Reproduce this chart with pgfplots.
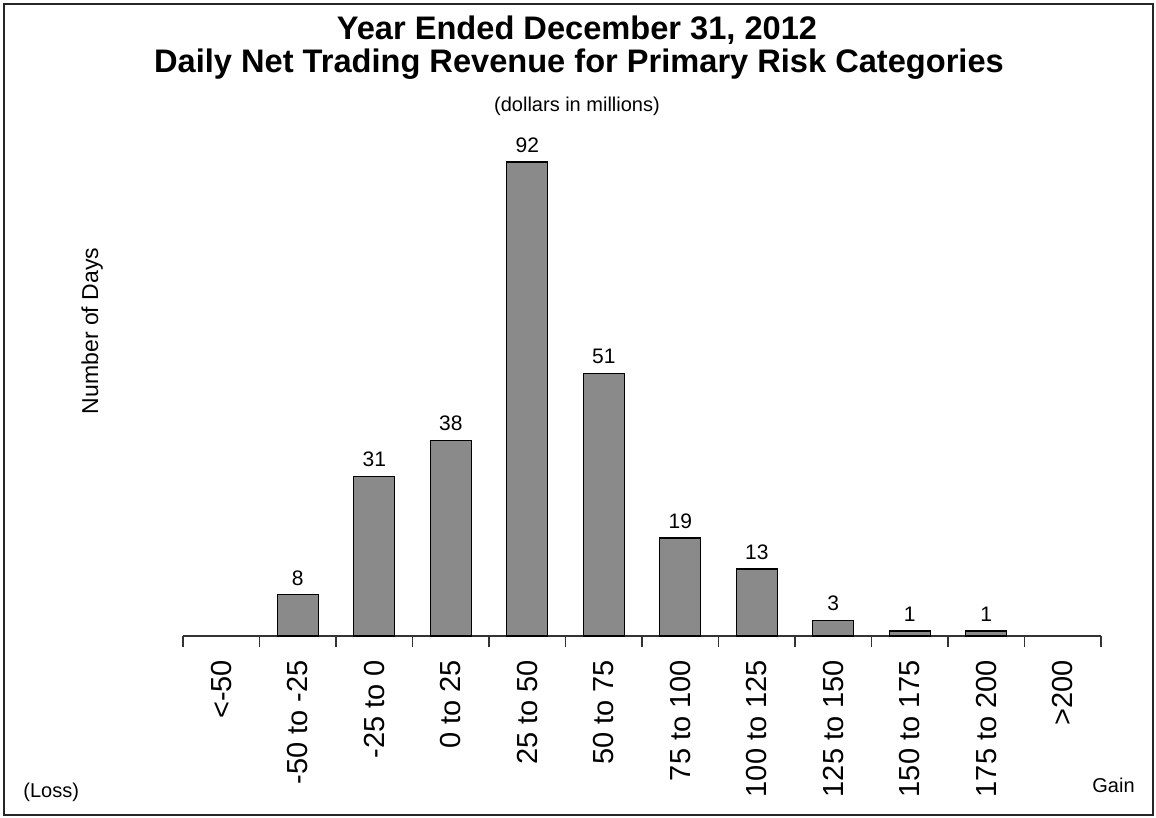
\documentclass[border=0pt]{standalone}
\usepackage{fontspec}
\setmainfont{Liberation Sans}
\usepackage{pgfplots}
\pgfplotsset{compat=1.18}
\definecolor{barfill}{RGB}{138,138,138}
\begin{document}
\begin{tikzpicture}
\path[use as bounding box] (0,0) rectangle (578pt,409pt);
\draw[line width=0.7pt,black!85] (2pt,1.5pt) rectangle (576.5pt,407pt);
\begin{axis}[
  at={(91.5pt,91pt)}, anchor=south west,
  scale only axis,
  width=459pt, height=257.5pt,
  xmin=-0.5, xmax=11.5, ymin=0, ymax=100,
  ybar, bar width=20.5pt,
  axis x line=bottom, axis y line=none,
  x axis line style={-, line width=0.6pt, black!80},
  xtick={0,...,11},
  xticklabels={{<-50},{-50 to -25},{-25 to 0},{0 to 25},{25 to 50},{50 to 75},{75 to 100},{100 to 125},{125 to 150},{150 to 175},{175 to 200},{>200}},
  major tick length=0pt,
  minor xtick={-0.5,0.5,...,11.5},
  minor tick length=5.5pt,
  xtick align=outside,
  minor tick style={line width=0.6pt, black!80},
  xticklabel style={rotate=90, anchor=east, font=\fontsize{14.5}{16}\selectfont},
  xticklabel shift=8.5pt,
  nodes near coords,
  every node near coord/.append style={font=\fontsize{10.5}{12}\selectfont, yshift=1pt},
  /pgf/number format/assume math mode=true,
  clip=false,
]
\addplot[draw=black, line width=0.7pt, fill=barfill] coordinates {
  (1,8) (2,31) (3,38) (4,92) (5,51) (6,19) (7,13) (8,3) (9,1) (10,1)
};
\end{axis}
\node[anchor=base, font=\bfseries\fontsize{16.3}{19}\selectfont] at (288.5pt,389pt) {Year Ended December 31, 2012};
\node[anchor=base, font=\bfseries\fontsize{16.3}{19}\selectfont] at (289.5pt,372.5pt) {Daily Net Trading Revenue for Primary Risk Categories};
\node[anchor=base, font=\fontsize{10}{12}\selectfont] at (288.5pt,353pt) {(dollars in millions)};
\node[anchor=base, rotate=90, font=\fontsize{11.5}{13}\selectfont] at (49pt,243.5pt) {Number of Days};
\node[anchor=base west, inner sep=0pt, font=\fontsize{10}{12}\selectfont] at (11.5pt,10pt) {(Loss)};
\node[anchor=base west, inner sep=0pt, font=\fontsize{10}{12}\selectfont] at (546pt,12.5pt) {Gain};
\end{tikzpicture}
\end{document}
